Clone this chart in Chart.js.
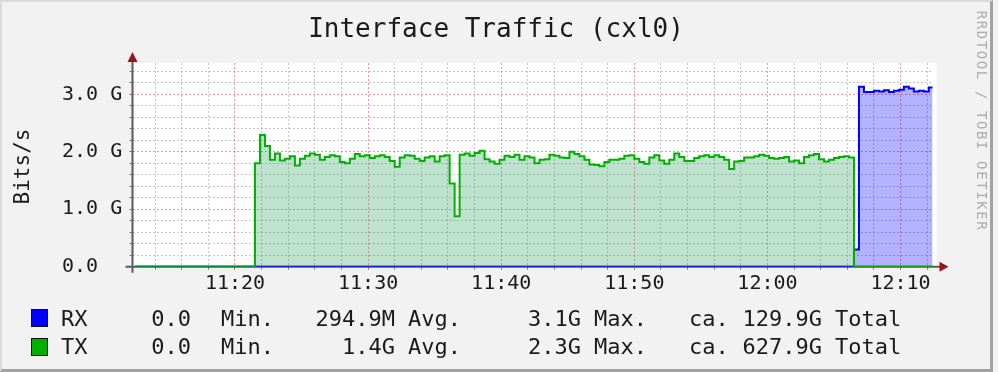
<!DOCTYPE html>
<html><head><meta charset="utf-8">
<script src="https://cdn.jsdelivr.net/npm/chart.js@4.4.0/dist/chart.umd.min.js"></script>
<style>
html,body{margin:0;padding:0;background:#f2f2f2;}
#wrap{position:relative;width:998px;height:372px;overflow:hidden;font-family:'DejaVu Sans Mono',monospace;color:#1a1a1a;}
#frame{position:absolute;left:0;top:0;width:988px;height:367px;border-style:solid;border-width:2px 3px 3px 2px;border-color:#dadada #a3a3a3 #a3a3a3 #dadada;}
canvas{position:absolute;left:0;top:0;}
.t{position:absolute;white-space:pre;line-height:1;}
.sq{position:absolute;width:15px;height:16px;border:1px solid #111;}
</style>
</head><body>
<div id="wrap">
<div id="frame"></div>
<canvas id="c" width="998" height="372"></canvas>
<div class="t" style="left:0;width:992px;text-align:center;top:14.5px;font-size:26px;">Interface Traffic (cxl0)</div>
<div class="t" style="left:-78px;top:156px;width:200px;text-align:center;font-size:21px;transform:rotate(-90deg);">Bits/s</div>
<div class="t" style="left:862px;top:114px;width:240px;text-align:center;font-size:14px;letter-spacing:1.6px;color:#adadad;transform:rotate(90deg);">RRDTOOL / TOBI OETIKER</div>
<div id="legend"></div>
</div>
<script>
// ---- data ----
const seriesNames = ['RX', 'TX'];
const seriesColors = ['#0000ff', '#00b000'];
// sample times, seconds after 11:00:00 (one sample every 22.5 s from 11:12:30)
const sampleStart = 750, sampleStep = 22.5, sampleCount = 161;
const sampleTimes = Array.from({length: sampleCount}, (_, i) => sampleStart + sampleStep * i);
// values in Gbit/s
const rxValues = [
  0,0,0,0,0,0,0,0,0,0, 0,0,0,0,0,0,0,0,0,0, 0,0,0,0,0,0,0,0,0,0,
  0,0,0,0,0,0,0,0,0,0, 0,0,0,0,0,0,0,0,0,0, 0,0,0,0,0,0,0,0,0,0,
  0,0,0,0,0,0,0,0,0,0, 0,0,0,0,0,0,0,0,0,0, 0,0,0,0,0,0,0,0,0,0,
  0,0,0,0,0,0,0,0,0,0, 0,0,0,0,0,0,0,0,0,0, 0,0,0,0,0,0,0,0,0,0,
  0,0,0,0,0,0,0,0,0,0, 0,0,0,0,0,0,0,0,0,0, 0,0,0,0,
  0.30, 3.13, 3.04, 3.04, 3.06, 3.05, 3.07, 3.04, 3.06, 3.08,
  3.13, 3.10, 3.05, 3.06, 3.05, 3.12, 3.12
];
const txValues = [
  0,0,0,0,0,0,0,0,0,0, 0,0,0,0,0,0,0,0,0,0, 0,0,0,0,
  1.80,
  2.29, 2.10, 1.86, 1.97, 1.85, 1.88, 1.92, 1.76, 1.88, 1.93,
  1.97, 1.95, 1.86, 1.91, 1.94, 1.92, 1.82, 1.80, 1.88, 1.96,
  1.92, 1.94, 1.89, 1.92, 1.94, 1.91, 1.84, 1.74, 1.90,
  1.94, 1.93, 1.88, 1.84, 1.90, 1.92, 1.83, 1.92, 1.94, 1.45,
  0.88, 1.95, 1.97, 1.93, 1.98, 2.02, 1.87, 1.83, 1.79, 1.86,
  1.93, 1.91, 1.95, 1.86, 1.92, 1.90, 1.80, 1.86, 1.87, 1.95,
  1.93, 1.90, 1.89, 2.00, 1.96, 1.92, 1.86, 1.78, 1.77, 1.75,
  1.82, 1.86, 1.86, 1.88, 1.93, 1.94, 1.88, 1.82, 1.79, 1.90,
  1.94, 1.85, 1.79, 1.86, 1.97, 1.91, 1.84, 1.84, 1.89, 1.92,
  1.94, 1.91, 1.94, 1.91, 1.86, 1.70, 1.83, 1.84, 1.90, 1.90,
  1.92, 1.95, 1.93, 1.89, 1.88, 1.89, 1.91, 1.83, 1.85, 1.80,
  1.91, 1.94, 1.96, 1.87, 1.83, 1.86, 1.89, 1.91, 1.92, 1.90,
  0,0,0,0,0,0,0,0,0,0, 0,0,0,0,0,0,0
];
// axes
const xRange = [738, 4344];              // 11:12:18 .. 12:12:24
const xGridTimes = [840,960,1080,1200,1320,1440,1560,1680,1800,1920,2040,2160,2280,2400,2520,2640,2760,2880,3000,3120,3240,3360,3480,3600,3720,3840,3960,4080,4200,4320];
const xLabelTimes = [1200, 1800, 2400, 3000, 3600, 4200];
const xTickLabels = ['11:20', '11:30', '11:40', '11:50', '12:00', '12:10'];
const yRange = [0, 3.545];
const yGridValues = [0,0.2,0.4,0.6,0.8,1,1.2,1.4,1.6,1.8,2,2.2,2.4,2.6,2.8,3,3.2,3.4];
const yLabelValues = [0, 1, 2, 3];
const yTickLabels = ['0.0', '1.0 G', '2.0 G', '3.0 G'];
// legend statistics
const legendMin = ['0.0', '0.0'];
const legendAvg = ['294.9M', '1.4G'];
const legendMax = ['3.1G', '2.3G'];
const legendTotal = ['129.9G', '627.9G'];

// ---- legend (HTML text) ----
const lg = document.getElementById('legend');
const rowY = [307.5, 336];
const fs = 22;
function addText(txt, left, top, right) {
  const d = document.createElement('div');
  d.className = 't';
  d.textContent = txt;
  d.style.fontSize = fs + 'px';
  d.style.top = top + 'px';
  if (right) { d.style.left = (left - 200) + 'px'; d.style.width = '200px'; d.style.textAlign = 'right'; }
  else d.style.left = left + 'px';
  lg.appendChild(d);
}
seriesNames.forEach((n, i) => {
  const sq = document.createElement('div');
  sq.className = 'sq';
  sq.style.left = '31px'; sq.style.top = (rowY[i] + 1.5) + 'px';
  sq.style.background = seriesColors[i];
  lg.appendChild(sq);
  const y = rowY[i];
  addText(n, 61, y);
  addText(legendMin[i], 191, y, true);
  addText('Min.', 221, y);
  addText(legendAvg[i], 395, y, true);
  addText('Avg.', 408, y);
  addText(legendMax[i], 581, y, true);
  addText('Max.', 594, y);
  addText('ca.', 689, y);
  addText(legendTotal[i], 822, y, true);
  addText('Total', 835, y);
});

// ---- chart ----
const majorGrid = 'rgba(235,60,60,0.55)';
const minorGrid = 'rgba(150,150,150,0.55)';
const framePlugin = {
  id: 'rrdFrame',
  beforeDraw(chart) {
    const {ctx, chartArea: a} = chart;
    ctx.save();
    ctx.fillStyle = '#ffffff';
    ctx.fillRect(a.left, a.top, a.right - a.left + 4, a.bottom - a.top);
    ctx.restore();
  },
  beforeDatasetsDraw(chart) {
    const {ctx, chartArea: a} = chart;
    ctx.save();
    ctx.strokeStyle = '#5a5a5a';
    ctx.lineWidth = 2;
    ctx.beginPath();
    ctx.moveTo(a.left - 7, a.bottom); ctx.lineTo(a.right + 8, a.bottom);
    ctx.moveTo(a.left, a.bottom + 6); ctx.lineTo(a.left, a.top - 1);
    ctx.stroke();
    ctx.fillStyle = '#9a1414';
    ctx.beginPath();
    ctx.moveTo(a.left, a.top - 11); ctx.lineTo(a.left - 5, a.top - 1); ctx.lineTo(a.left + 5, a.top - 1); ctx.closePath();
    ctx.fill();
    ctx.beginPath();
    ctx.moveTo(a.right + 16, a.bottom); ctx.lineTo(a.right + 7, a.bottom - 5); ctx.lineTo(a.right + 7, a.bottom + 5); ctx.closePath();
    ctx.fill();
    ctx.restore();
  }
};

const tickFont = {family: 'DejaVu Sans Mono', size: 20};
new Chart(document.getElementById('c'), {
  type: 'line',
  data: {
    datasets: [
      {
        label: seriesNames[1],
        data: sampleTimes.map((t, i) => ({x: t, y: txValues[i]})),
        borderColor: seriesColors[1],
        backgroundColor: 'rgba(20,150,75,0.28)',
        borderWidth: 2, fill: 'origin', stepped: true, pointRadius: 0
      },
      {
        label: seriesNames[0],
        data: sampleTimes.map((t, i) => ({x: t, y: rxValues[i]})),
        borderColor: seriesColors[0],
        backgroundColor: 'rgba(0,0,255,0.30)',
        borderWidth: 2, fill: 'origin', stepped: true, pointRadius: 0
      }
    ]
  },
  options: {
    responsive: false, animation: false, devicePixelRatio: 1,
    layout: {padding: {left: 62, top: 63, right: 65.5, bottom: 0}},
    plugins: {legend: {display: false}, tooltip: {enabled: false}, title: {display: false}},
    scales: {
      x: {
        type: 'linear', min: xRange[0], max: xRange[1],
        afterBuildTicks: s => { s.ticks = xGridTimes.map(v => ({value: v})); },
        afterFit: s => { s.height = 105.3; },
        ticks: {
          autoSkip: false, maxRotation: 0, minRotation: 0, padding: 2,
          font: tickFont, color: '#1a1a1a',
          callback: v => { const i = xLabelTimes.indexOf(v); return i >= 0 ? xTickLabels[i] : ''; }
        },
        grid: {
          color: c => (c.tick && xLabelTimes.includes(c.tick.value)) ? majorGrid : minorGrid,
          lineWidth: 1, drawTicks: true, tickLength: 3, tickColor: '#777'
        },
        border: {display: false, dash: [2, 2]}
      },
      y: {
        min: yRange[0], max: yRange[1],
        afterBuildTicks: s => { s.ticks = yGridValues.map(v => ({value: v})); },
        afterFit: s => { s.width = 70.5; },
        ticks: {
          autoSkip: false, crossAlign: 'far', padding: 4,
          font: tickFont, color: '#1a1a1a',
          callback: v => { const i = yLabelValues.indexOf(v); return i >= 0 ? yTickLabels[i] : ''; }
        },
        grid: {
          color: c => (c.tick && yLabelValues.includes(c.tick.value)) ? majorGrid : minorGrid,
          lineWidth: 1, drawTicks: true, tickLength: 3, tickColor: '#777'
        },
        border: {display: false, dash: [2, 2]}
      }
    }
  },
  plugins: [framePlugin]
});
</script>
</body></html>
